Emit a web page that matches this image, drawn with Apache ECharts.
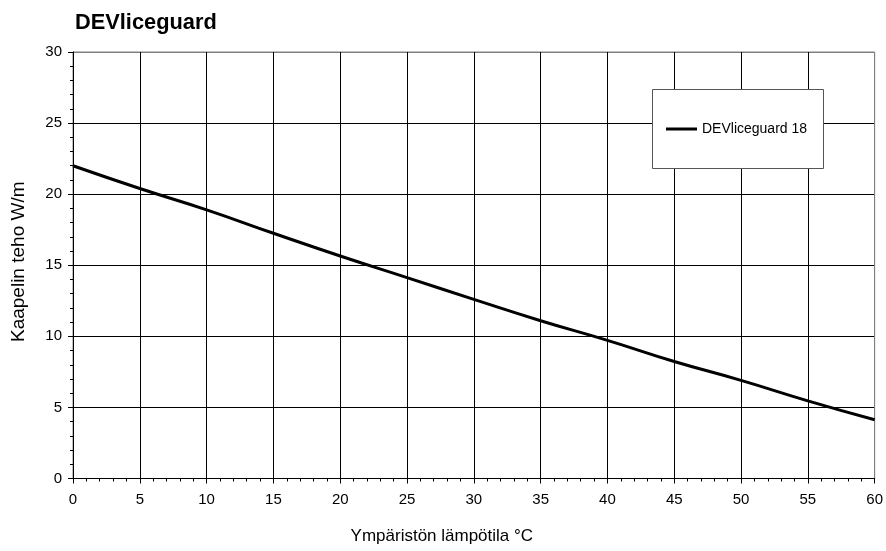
<!DOCTYPE html>
<html>
<head>
<meta charset="utf-8">
<script src="https://cdn.jsdelivr.net/npm/echarts@6/dist/echarts.min.js"></script>
<style>html,body{margin:0;padding:0;background:#fff;}#c{width:886px;height:551px;}</style>
</head>
<body>
<div id="c"></div>
<script>
const chartTitle = 'DEVliceguard';
const seriesName = 'DEVliceguard 18';
const xName = 'Ympäristön lämpötila °C';
const yName = 'Kaapelin teho W/m';
const temps = [0, 5, 10, 15, 20, 25, 30, 35, 40, 45, 50, 55, 60];
const power = [22.0, 20.4, 18.9, 17.25, 15.65, 14.13, 12.6, 11.1, 9.72, 8.23, 6.9, 5.46, 4.13];

const FONT = '"Liberation Sans", Arial, sans-serif';
const chart = echarts.init(document.getElementById('c'), null, {renderer: 'canvas'});
const xSplitColors = temps.map((t, i) => i === temps.length - 1 ? '#808080' : '#000');
const ySplitColors = [0,5,10,15,20,25,30].map((v, i, a) => i === a.length - 1 ? '#808080' : '#000');

chart.setOption({
  animation: false,
  backgroundColor: '#fff',
  title: {
    text: chartTitle, left: 75, top: 12, padding: 0,
    textStyle: {fontFamily: FONT, fontSize: 21.8, fontWeight: 'bold', color: '#000'}
  },
  grid: {left: 73, right: 9, top: 52, bottom: 72.5, show: true, borderColor: '#808080', borderWidth: 1, backgroundColor: 'transparent'},
  graphic: [{
    type: 'rect', z: 5,
    shape: {x: 652.5, y: 89.5, width: 171, height: 79},
    style: {fill: '#fff', stroke: '#555', lineWidth: 1}
  }],
  legend: {
    left: 666, top: 122, padding: 0, z: 10,
    itemWidth: 31, itemHeight: 14,
    textStyle: {fontFamily: FONT, fontSize: 14, color: '#000'},
    data: [{name: seriesName, icon: 'path://M0,5.5H31V8.5H0Z'}],
    itemStyle: {color: '#000'}
  },
  xAxis: {
    type: 'value', min: 0, max: 60, interval: 5,
    name: xName, nameLocation: 'middle', nameGap: 49,
    nameTextStyle: {fontFamily: FONT, fontSize: 17, color: '#000', padding: [0, 64, 0, 0]},
    axisLine: {show: true, lineStyle: {color: '#000', width: 1}},
    axisTick: {show: true, length: 5, lineStyle: {color: '#000'}},
    minorTick: {show: true, splitNumber: 5, length: 3, lineStyle: {color: '#000'}},
    axisLabel: {fontFamily: FONT, fontSize: 15, color: '#000', margin: 14},
    splitLine: {show: true, lineStyle: {color: xSplitColors, width: 1}}
  },
  yAxis: {
    type: 'value', min: 0, max: 30, interval: 5,
    name: yName, nameLocation: 'middle', nameGap: 45, nameRotate: 90,
    nameTextStyle: {fontFamily: FONT, fontSize: 19, color: '#000', padding: [0, 0, 0, 7]},
    axisLine: {show: true, lineStyle: {color: '#000', width: 1}},
    axisTick: {show: true, length: 5, lineStyle: {color: '#000'}},
    minorTick: {show: true, splitNumber: 5, length: 3, lineStyle: {color: '#000'}},
    axisLabel: {fontFamily: FONT, fontSize: 15, color: '#000', margin: 11},
    splitLine: {show: true, lineStyle: {color: ySplitColors, width: 1}}
  },
  series: [{
    name: seriesName, type: 'line', symbol: 'none', smooth: true,
    data: temps.map((t, i) => [t, power[i]]),
    lineStyle: {color: '#000', width: 3},
    itemStyle: {color: '#000'},
    z: 3
  }]
});
</script>
</body>
</html>
